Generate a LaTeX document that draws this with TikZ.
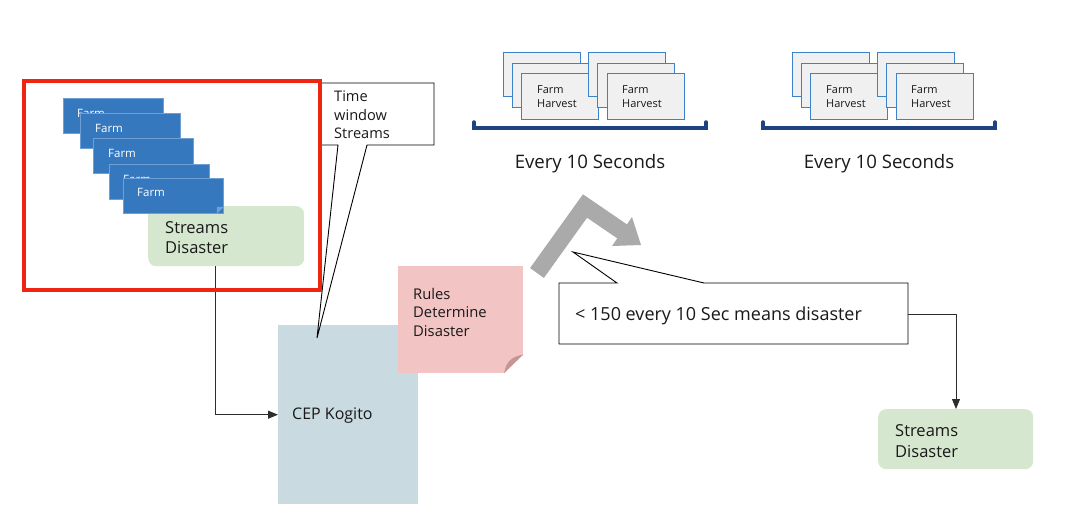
\documentclass[tikz,border=0pt]{standalone}
\usepackage{fontspec}
\setmainfont{Open Sans}
\usetikzlibrary{arrows.meta}
\definecolor{redc}{RGB}{240,36,18}
\definecolor{farmc}{RGB}{54,120,190}
\definecolor{farmb}{RGB}{110,160,215}
\definecolor{greenc}{RGB}{213,231,206}
\definecolor{cepc}{RGB}{201,219,224}
\definecolor{pinkc}{RGB}{242,196,196}
\definecolor{foldc}{RGB}{196,150,150}
\definecolor{grayc}{RGB}{170,170,170}
\definecolor{hcard}{RGB}{240,240,240}
\definecolor{hborder}{RGB}{60,130,200}
\definecolor{navy}{RGB}{28,66,128}
\definecolor{txtc}{RGB}{25,25,25}
\definecolor{linec}{RGB}{45,45,45}
\begin{document}
\begin{tikzpicture}[x=1pt,y=-1pt,
  txt/.style={inner sep=0, anchor=west, text=txtc, align=left},
  farmcard/.style={draw=farmb, fill=farmc, line width=0.8pt, minimum width=100pt, minimum height=35pt, inner sep=0, anchor=north west},
  farmtxt/.style={inner sep=0, anchor=west, text=white, font=\fontsize{11.5}{13}\selectfont},
  hcardbox/.style={draw=hborder, fill=hcard, line width=1.2pt, minimum width=77pt, minimum height=44pt, inner sep=0, anchor=north west},
  htxt/.style={txt, font=\fontsize{11}{14}\selectfont},
  greenbox/.style={fill=greenc, rounded corners=8pt, inner sep=0, anchor=north west},
  conn/.style={draw=linec, line width=1pt, -{Triangle[length=10pt,width=8pt]}},
  callout/.style={draw=black, fill=white, line width=0.9pt, line join=miter},
  bracket/.style={draw=navy, line width=3.5pt, line cap=round}
]
\useasboundingbox (0,0) rectangle (1082,532);

% green box 1 (behind the farm cards)
\node[greenbox, minimum width=156pt, minimum height=60pt] (g1) at (148,206) {};
\node[txt, font=\fontsize{16.5}{20}\selectfont] (g1t) at (165,237.5) {Streams\\Disaster};

% farm cards
\node[farmcard] (f1) at (63,98) {};
\node[farmtxt] (f1t) at (77,113) {Farm};
\node[farmcard] (f2) at (80,113) {};
\node[farmtxt] (f2t) at (95,128) {Farm};
\node[farmcard] (f3) at (93,138) {};
\node[farmtxt] (f3t) at (108,153) {Farm};
\node[farmcard] (f4) at (109,164) {};
\node[farmtxt] (f4t) at (123,179) {Farm};
\node[farmcard] (f5) at (123,178) {};
\node[farmtxt] (f5t) at (137,192) {Farm};
\fill[farmb] (f5.south east) ++(0,-7) -- ++(-7,7) -- ++(0,-7) -- cycle;

% CEP Kogito
\node[fill=cepc, minimum width=140pt, minimum height=179pt, inner sep=0, anchor=north west] (cep) at (278,325) {};
\node[txt, font=\fontsize{16}{18}\selectfont] (cept) at (292,416) {CEP Kogito};

% connector streams -> CEP
\draw[conn] (g1.south -| 215,0) |- (cep.west);

% callout 1
\coordinate (c1tip) at (317,338);
\path[callout] (319,83) -- (434,83) -- (434,145) -- (367,145) -- (c1tip) -- (338,145) -- (319,145) -- cycle;
\node[txt, font=\fontsize{14.6}{18.5}\selectfont] (c1t) at (334,115) {Time\\window\\Streams};

% red frame
\node[draw=redc, line width=4pt, minimum width=296pt, minimum height=209pt, inner sep=0, anchor=north west] (red) at (22,79) {};

% pink note
\node[fill=pinkc, minimum width=125pt, minimum height=107pt, inner sep=0, anchor=north west] (note) at (398,266) {};
\fill[white] (note.south east) ++(0,-19) -- (note.south east) -- ++(-19,0) -- cycle;
\fill[foldc] (note.south east) ++(0,-19) .. controls (512,357) and (507,360) .. (504,373) -- cycle;
\node[txt, font=\fontsize{14.8}{18.5}\selectfont] (notet) at (413,312) {Rules\\Determine\\Disaster};

% gray bent arrow
\draw[grayc, line width=17pt, line join=miter] (537,273) -- (585,206) -- (623,232);
\fill[grayc] (612,246) -- (641,245) -- (632,217) -- cycle;

% callout 2
\coordinate (c2tip) at (573,252);
\path[callout] (559,283) -- (617,283) -- (c2tip) -- (704,283) -- (908,283) -- (908,344) -- (559,344) -- cycle;
\node[txt, font=\fontsize{18}{20}\selectfont] (c2t) at (575,316) {< 150 every 10 Sec means disaster};
\coordinate (c2e) at (908,314);

% green box 2
\node[greenbox, minimum width=155pt, minimum height=60pt] (g2) at (878,409) {};
\node[txt, font=\fontsize{16.5}{21}\selectfont] (g2t) at (895,441) {Streams\\Disaster};
\draw[conn] (c2e) -| (g2.north -| 956,0);

% harvest groups
\foreach \gx/\g in {0/a,289/b}{
  \node[hcardbox] (\g1) at (503+\gx,52) {};
  \node[hcardbox] (\g2) at (512+\gx,63) {};
  \node[hcardbox, minimum height=46pt] (\g3) at (521+\gx,73) {};
  \node[htxt] (\g3t) at (537+\gx,96.5) {Farm\\Harvest};
  \node[hcardbox] (\g4) at (588+\gx,52) {};
  \node[hcardbox] (\g5) at (597+\gx,63) {};
  \node[hcardbox, minimum height=46pt] (\g6) at (607+\gx,73) {};
  \node[htxt] (\g6t) at (622+\gx,96.5) {Farm\\Harvest};
  \coordinate (\g bl) at (474+\gx,122);
  \coordinate (\g br) at (706+\gx,122);
  \draw[bracket] (\g bl) -- ++(0,6) -- (\g br |- 0,128) -- (\g br);
  \node[text=txtc, inner sep=0, font=\fontsize{18.6}{20}\selectfont] (\g lab) at (590+\gx,164) {Every 10 Seconds};
}
\end{tikzpicture}
\end{document}
